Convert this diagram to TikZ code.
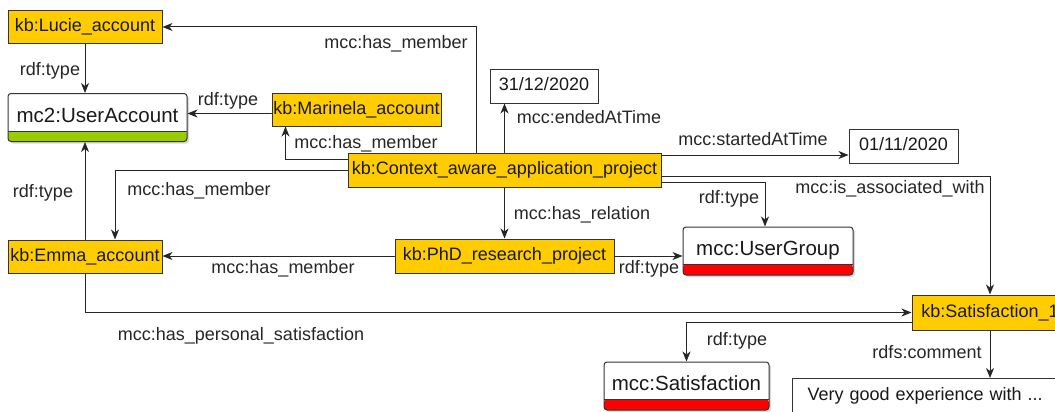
\documentclass[tikz,border=0pt]{standalone}
\usepackage{fontspec}
\setmainfont{Liberation Sans}
\usetikzlibrary{arrows.meta,shadows}
\definecolor{kbyellow}{HTML}{FFCC00}
\definecolor{clsgreen}{HTML}{99CC00}
\definecolor{clsred}{HTML}{FF0000}
\begin{document}
\begin{tikzpicture}[x=1pt,y=-1pt,
  edge/.style={draw=black!85,line width=1pt,line cap=round,-{Stealth[length=10pt,width=8pt,inset=3pt]}},
  inst/.style={draw=black!80,fill=kbyellow,line width=1pt,minimum height=33pt,inner xsep=1pt,inner ysep=0pt,text height=13pt,text depth=4pt,font=\fontsize{18pt}{20pt}\selectfont,text=black!90},
  lit/.style={draw=black!80,fill=white,line width=1pt,minimum height=33pt,inner sep=0pt,text height=13pt,text depth=4pt,font=\fontsize{18pt}{20pt}\selectfont,text=black!90},
  cls/.style={draw=black!80,fill=white,line width=1pt,rounded corners=3pt,inner xsep=0pt,inner ysep=0pt,text height=28.5pt,text depth=19.5pt,font=\fontsize{20.5pt}{22pt}\selectfont,text=black!90,
    drop shadow={shadow xshift=2pt,shadow yshift=-2pt,opacity=0.3},
    path picture={\fill[#1] (path picture bounding box.south west) rectangle ([yshift=10.5pt]path picture bounding box.south east);
      \draw[black!80,line width=1pt] ([yshift=10.5pt]path picture bounding box.south west) -- ([yshift=10.5pt]path picture bounding box.south east);}},
  lbl/.style={inner sep=0pt,anchor=base,font=\fontsize{18pt}{20pt}\selectfont,text=black!85}]
\useasboundingbox (0,0) rectangle (1055,412);
\node[inst,minimum width=154pt] (lucie) at (85,27) {kb:Lucie\_account};
\node[cls=clsgreen,minimum width=179pt] (uacc) at (97.5,117.5) {mc2:UserAccount};
\node[inst,minimum width=169pt] (marinela) at (356.5,109.5) {kb:Marinela\_account};
\node[inst,minimum width=313pt,minimum height=34pt] (ctx) at (504.5,170) {kb:Context\_aware\_application\_project};
\node[lit,minimum width=108pt] (ended) at (544,86.5) {31/12/2020};
\node[lit,minimum width=109pt,minimum height=34pt] (started) at (903.5,146) {01/11/2020};
\node[inst,minimum width=154pt] (emma) at (85,256.5) {kb:Emma\_account};
\node[inst,minimum width=219pt,minimum height=34pt] (phd) at (504.5,256) {kb:PhD\_research\_project};
\node[cls=clsred,minimum width=170pt] (ugroup) at (768,251) {mcc:UserGroup};
\node[inst,minimum width=156pt,minimum height=35pt] (sat1) at (990,312.5) {kb:Satisfaction\_1};
\node[cls=clsred,minimum width=165pt] (msat) at (686.5,386) {mcc:Satisfaction};
\node[lit,anchor=north west,minimum width=300pt,minimum height=34pt,inner xsep=15pt,text width=270pt,align=left] (cmt) at (792,378) {Very good experience with ...};
\coordinate (ctxTop) at ([xshift=129pt]ctx.north west);
\coordinate (ctxW) at ([yshift=11pt]ctx.west);
\coordinate (ctxE1) at ([yshift=15pt]ctx.east);
\coordinate (ctxE2) at ([yshift=-6pt]ctx.east);
\coordinate (ctxE3) at ([yshift=-12pt]ctx.east);
\coordinate (marW) at ([yshift=-4pt]marinela.west);
\coordinate (marS) at ([xshift=-71pt]marinela.south);
\coordinate (emmaN) at ([xshift=30pt]emma.north);
\coordinate (ugN) at ([xshift=-3pt]ugroup.north);
\coordinate (sat1W) at ([yshift=-10pt]sat1.west);
\draw[edge] (ctxTop) |- (lucie.east);
\draw[edge] (lucie.south) -- (lucie.south |- uacc.north);
\draw[edge] (marW) -- (marW -| uacc.east);
\draw[edge] (ctxW) -| (marS);
\draw[edge] (ctx.west) -| (emmaN);
\draw[edge] (emma.north) -- (emma.north |- uacc.south);
\draw[edge] (ctx.north) -- (ctx.north |- ended.south);
\draw[edge] (ctxE1) -- (ctxE1 -| started.west);
\draw[edge] (ctxE2) -| (sat1.north);
\draw[edge] (ctxE3) -| (ugN);
\draw[edge] (ctx.south) -- (phd.north);
\draw[edge] (phd.west) -- (phd.west -| emma.east);
\draw[edge] (phd.east) -- (phd.east -| ugroup.west);
\draw[edge] (emma.south) |- (sat1.west);
\draw[edge] (sat1W) -| (msat.north);
\draw[edge] (sat1.south) -- (sat1.south |- cmt.north);
\node[lbl] (lblLucie) at (396,49) {mcc:has\_member};
\node[lbl] (lblLucieT) at (50,75) {rdf:type};
\node[lbl] (lblMarT) at (228,106) {rdf:type};
\node[lbl] (lblMar) at (366,148) {mcc:has\_member};
\node[lbl] (lblEmma) at (199,195) {mcc:has\_member};
\node[lbl] (lblEmmaT) at (43,197) {rdf:type};
\node[lbl] (lblEnded) at (589,123) {mcc:endedAtTime};
\node[lbl] (lblStarted) at (753,145) {mcc:startedAtTime};
\node[lbl] (lblAssoc) at (890,193) {mcc:is\_associated\_with};
\node[lbl] (lblCtxT) at (729,203) {rdf:type};
\node[lbl] (lblRel) at (582,219) {mcc:has\_relation};
\node[lbl] (lblPhd) at (283,273) {mcc:has\_member};
\node[lbl] (lblPhdT) at (649,273) {rdf:type};
\node[lbl] (lblPers) at (241,340) {mcc:has\_personal\_satisfaction};
\node[lbl] (lblSatT) at (737,345) {rdf:type};
\node[lbl] (lblCmt) at (927,358) {rdfs:comment};
\end{tikzpicture}
\end{document}
